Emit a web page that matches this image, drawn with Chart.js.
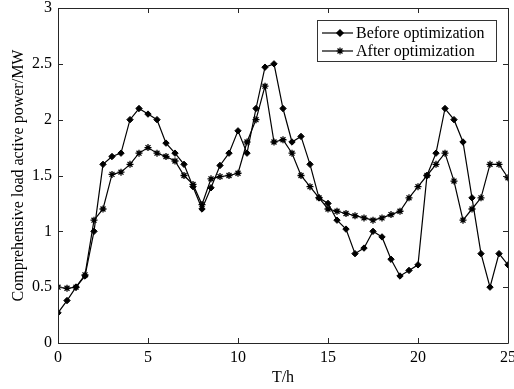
<!DOCTYPE html>
<html>
<head>
<meta charset="utf-8">
<script src="https://cdn.jsdelivr.net/npm/chart.js@4"></script>
<style>
  body { margin: 0; background: #fff; }
  #wrap { width: 514px; height: 389px; }
</style>
</head>
<body>
<div id="wrap"><canvas id="load-chart" width="514" height="389"></canvas></div>
<script>
// hours of the day (x values)
const hours = [0, 0.5, 1, 1.5, 2, 2.5, 3, 3.5, 4, 4.5, 5, 5.5, 6, 6.5, 7, 7.5, 8, 8.5, 9, 9.5,
    10, 10.5, 11, 11.5, 12, 12.5, 13, 13.5, 14, 14.5, 15, 15.5, 16, 16.5, 17, 17.5, 18, 18.5, 19, 19.5,
    20, 20.5, 21, 21.5, 22, 22.5, 23, 23.5, 24, 24.5, 25];
const beforeOpt = [0.27, 0.38, 0.50, 0.60, 1.00, 1.60, 1.67, 1.70, 2.00, 2.10, 2.05, 2.00, 1.79, 1.70, 1.60, 1.40, 1.20, 1.39, 1.59, 1.70,
    1.90, 1.70, 2.10, 2.47, 2.50, 2.10, 1.80, 1.85, 1.60, 1.30, 1.25, 1.10, 1.02, 0.80, 0.85, 1.00, 0.95, 0.75, 0.60, 0.65,
    0.70, 1.50, 1.70, 2.10, 2.00, 1.80, 1.30, 0.80, 0.50, 0.80, 0.70];
const afterOpt = [0.50, 0.49, 0.50, 0.61, 1.10, 1.20, 1.51, 1.53, 1.60, 1.70, 1.75, 1.70, 1.67, 1.63, 1.50, 1.42, 1.24, 1.47, 1.49, 1.50,
    1.52, 1.80, 2.00, 2.30, 1.80, 1.82, 1.70, 1.50, 1.40, 1.30, 1.20, 1.18, 1.16, 1.14, 1.12, 1.10, 1.12, 1.15, 1.18, 1.30,
    1.40, 1.50, 1.60, 1.70, 1.45, 1.10, 1.20, 1.30, 1.60, 1.60, 1.48];
const xTicks = [0, 5, 10, 15, 20, 25];
const yTicks = [0, 0.5, 1, 1.5, 2, 2.5, 3];

const FONT = {family: "'Liberation Serif', 'Times New Roman', serif", size: 16};

function toPoints(ys){
    return hours.map((h, i) => ({x: h, y: ys[i]}));
}

// box around the plot with inward ticks on all sides
const framePlugin = {
    id: 'frame',
    afterDatasetsDraw(chart){
        const {ctx, chartArea: a, scales} = chart;
        const len = 5;
        ctx.save();
        ctx.strokeStyle = '#262626';
        ctx.lineWidth = 1;
        ctx.beginPath();
        ctx.rect(Math.round(a.left) + 0.5, Math.round(a.top) + 0.5, Math.round(a.right - a.left), Math.round(a.bottom - a.top));
        for (let v of xTicks){
            const px = Math.round(scales.x.getPixelForValue(v)) + 0.5;
            ctx.moveTo(px, a.bottom); ctx.lineTo(px, a.bottom - len);
            ctx.moveTo(px, a.top); ctx.lineTo(px, a.top + len);
        }
        for (let v of yTicks){
            const py = Math.round(scales.y.getPixelForValue(v)) + 0.5;
            ctx.moveTo(a.left, py); ctx.lineTo(a.left + len, py);
            ctx.moveTo(a.right, py); ctx.lineTo(a.right - len, py);
        }
        ctx.stroke();
        ctx.restore();
    },
    afterDraw(chart){
        // legend box, top right
        const {ctx} = chart;
        const box = {x: 317.5, y: 20.5, w: 179, h: 41};
        ctx.save();
        ctx.fillStyle = '#fff';
        ctx.fillRect(box.x, box.y, box.w, box.h);
        ctx.strokeStyle = '#333';
        ctx.lineWidth = 1;
        ctx.strokeRect(box.x, box.y, box.w, box.h);
        ctx.font = FONT.size + "px " + FONT.family;
        ctx.textBaseline = 'middle';
        ctx.fillStyle = '#000';
        chart.data.datasets.forEach((ds, i) => {
            const cy = 33 + i * 18;
            ctx.strokeStyle = '#000';
            ctx.lineWidth = 1.2;
            ctx.beginPath();
            ctx.moveTo(322, cy); ctx.lineTo(353, cy);
            ctx.stroke();
            Chart.helpers.drawPoint(ctx, {pointStyle: ds.pointStyle, radius: ds.pointRadius, borderWidth: ds.pointBorderWidth || 1, rotation: 0}, 340, cy);
            ctx.fillStyle = '#000';
            ctx.fillText(ds.label, 356, cy + 1);
        });
        ctx.restore();
    }
};

const config = {
    type: 'line',
    data: {
        datasets: [
            {
                label: 'Before optimization',
                data: toPoints(beforeOpt),
                borderColor: '#000',
                backgroundColor: '#000',
                borderWidth: 1.2,
                pointStyle: 'rectRot',
                pointRadius: 3.2,
                pointBorderWidth: 1,
                pointBackgroundColor: '#000',
                pointBorderColor: '#000',
                tension: 0
            },
            {
                label: 'After optimization',
                data: toPoints(afterOpt),
                borderColor: '#000',
                backgroundColor: '#000',
                borderWidth: 1.2,
                pointStyle: 'star',
                pointRadius: 3.5,
                pointBorderWidth: 1.3,
                pointBackgroundColor: '#000',
                pointBorderColor: '#000',
                tension: 0
            }
        ]
    },
    options: {
        responsive: false,
        animation: false,
        events: [],
        layout: {padding: {top: 8, right: 6, left: 0, bottom: 0}},
        plugins: {legend: {display: false}, tooltip: {enabled: false}},
        scales: {
            x: {
                type: 'linear', min: 0, max: 25,
                grid: {display: false, drawTicks: false},
                border: {display: false},
                afterBuildTicks: (scale) => { scale.ticks = xTicks.map(v => ({value: v})); },
                afterFit: (scale) => { scale.height = 46; scale.paddingRight = 0; scale.paddingLeft = 0; },
                ticks: {color: '#000', font: FONT, padding: 5, maxRotation: 0, callback: (v) => String(v)},
                title: {display: true, text: 'T/h', color: '#000', font: FONT, padding: {top: 0, bottom: 2}}
            },
            y: {
                min: 0, max: 3,
                grid: {display: false, drawTicks: false},
                border: {display: false},
                afterBuildTicks: (scale) => { scale.ticks = yTicks.map(v => ({value: v})); },
                afterFit: (scale) => { scale.width = 58; scale.paddingTop = 0; scale.paddingBottom = 0; },
                ticks: {color: '#000', font: FONT, padding: 6, callback: (v) => String(v)},
                title: {display: true, text: 'Comprehensive load active power/MW', color: '#000', font: FONT, padding: {top: 9, bottom: 0}}
            }
        }
    },
    plugins: [framePlugin]
};

document.addEventListener('DOMContentLoaded', () => {
    new Chart('load-chart', config);
});
</script>
</body>
</html>
